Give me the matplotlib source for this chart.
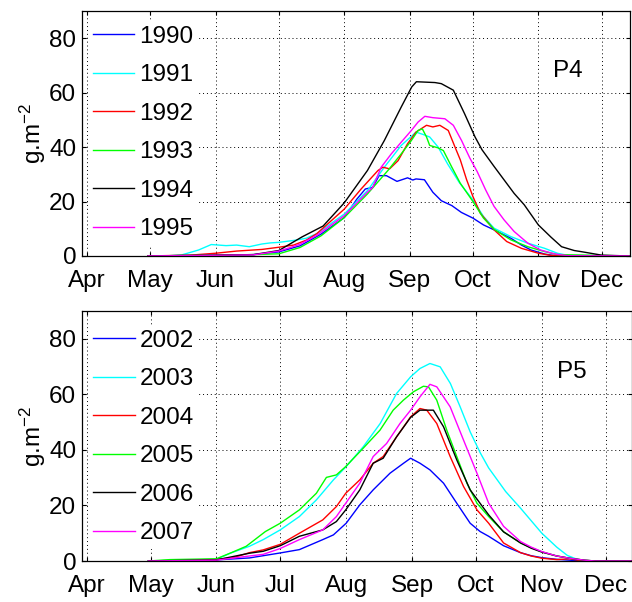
import numpy as np
import matplotlib
matplotlib.use('Agg')
import matplotlib.pyplot as plt

plt.rcParams['font.family'] = ['Liberation Sans', 'DejaVu Sans']
plt.rcParams['mathtext.fontset'] = 'custom'
plt.rcParams['mathtext.rm'] = 'Liberation Sans'
plt.rcParams['mathtext.it'] = 'Liberation Sans'

# x axis is day of year
month_doy = [91, 121, 152, 182, 213, 244, 274, 305, 335]
month_lbl = ['Apr', 'May', 'Jun', 'Jul', 'Aug', 'Sep', 'Oct', 'Nov', 'Dec']
yticks = [0, 20, 40, 60, 80]

# ---- P4 : 1990-1995
d1990 = [120, 152, 170, 182, 192, 202, 213, 219, 223, 226.5, 229.5, 233, 238, 243, 245.5, 247, 251, 255, 259, 264, 268.5, 274, 279, 284, 292, 297, 301.5, 308, 313, 348]
v1990 = [0, 0.2, 0.5, 1.5, 3.7, 8, 14.1, 20.9, 24.6, 25.2, 29.5, 29.5, 27.4, 28.7, 27.9, 28.3, 28, 23.4, 20.3, 18.5, 16, 13.9, 11.4, 9.6, 6.5, 4, 2.2, 0.7, 0.1, 0]

d1991 = [120, 130, 136, 144, 150, 157, 162, 168, 174, 178, 182, 190, 195, 200, 213, 224, 232, 240, 247, 250.5, 253.5, 257.5, 262, 267.5, 274, 279, 284, 292, 300, 308, 314, 319, 348]
v1991 = [0, 0.1, 0.4, 2.2, 4.2, 3.8, 4, 3.4, 4.4, 4.8, 5, 5.8, 6.5, 8.2, 15.4, 24, 32.6, 40.6, 45.5, 44.6, 43.7, 40, 33.8, 27, 20.6, 14.5, 10.2, 7.1, 4.7, 2.8, 1, 0.2, 0]

d1992 = [120, 140, 152, 162, 174, 182, 189, 195, 200, 213, 221, 229, 231.3, 234.5, 238.5, 243, 247, 252, 255, 258.3, 262.3, 265.5, 268, 271, 274, 277.5, 284, 290, 297, 305, 311, 348]
v1992 = [0, 0.3, 1, 1.8, 2.4, 3.2, 4, 5.8, 8.2, 17.2, 24.6, 31.4, 32.6, 32, 35, 41.2, 45.5, 48, 47.4, 48, 46.1, 40, 35.3, 28, 21.8, 15.7, 9.6, 5.3, 2.8, 1, 0.2, 0]

d1993 = [120, 170, 182, 192, 202, 213, 224, 233.7, 240, 244.8, 248, 250, 252, 253.5, 257.5, 260, 264, 268, 274, 279, 284, 292, 300, 308, 314, 348]
v1993 = [0, 0.5, 0.8, 3.1, 7.4, 14.1, 22.8, 31.4, 37.5, 42.4, 46.1, 46.7, 43.7, 40.6, 39.7, 38.7, 32.6, 26.7, 20, 13.9, 9.8, 5.9, 3.4, 1.6, 0.5, 0]

d1994 = [120, 170, 182, 193, 203, 213, 224, 232, 240, 245, 247.2, 256, 259, 264.7, 270, 275, 278.3, 284, 288.7, 293.5, 298.3, 305, 311, 316, 322, 326, 335, 348]
v1994 = [0, 0.5, 2, 7, 11, 19.5, 31.4, 42.4, 54.7, 62.1, 64, 63.7, 63.3, 60.9, 52.3, 43.7, 39, 32.9, 28, 23, 18.8, 11.4, 6.9, 3.4, 2, 1.5, 0.3, 0]

d1995 = [120, 170, 182, 187, 192, 200, 213, 224, 226.5, 230.5, 235.3, 240, 244.8, 248, 251.2, 255, 260.7, 264.7, 268.6, 272.5, 276, 280, 284, 288.7, 293.5, 300, 306, 313, 319, 348]
v1995 = [0, 0.4, 1.8, 3, 4.3, 7.6, 14.8, 23.4, 25.2, 32.6, 37.5, 41.8, 46.1, 49.2, 51.3, 50.8, 50.4, 48, 42.4, 36, 31, 24.3, 18.2, 13.3, 9, 4.7, 2.2, 0.7, 0.1, 0]

# ---- P5 : 2002-2007
d2002 = [120, 152, 167.5, 182, 191, 202, 207, 213, 219.4, 225.7, 233.6, 240, 243.3, 247.7, 252.4, 258.8, 265, 271.3, 276, 280, 287, 295, 300, 305, 312, 320, 325, 347]
v2002 = [0, 0.4, 1.1, 2.9, 4.1, 7.7, 9.4, 13.6, 20.2, 25.6, 31.6, 35.2, 37, 35.2, 32.8, 28, 20.8, 13.6, 10.6, 8.9, 5.5, 3, 1.9, 1.2, 0.6, 0.2, 0, 0]

d2003 = [120, 152, 158.5, 167.5, 174, 182, 191, 199, 207, 213, 221, 229, 236.7, 243.3, 247.7, 252.4, 257.2, 262, 266.6, 271.3, 276, 280, 288, 295, 300, 305, 312, 317, 322, 326, 347]
v2003 = [0, 0.6, 2.8, 5.3, 7.7, 11.2, 16, 22, 29.2, 34, 41.1, 49.5, 60.3, 66.3, 69.3, 71.1, 69.9, 63.9, 55.5, 46.5, 39, 33.5, 25, 19, 14.5, 10, 5, 2, 0.5, 0, 0]

d2004 = [120, 152, 160, 167.5, 174, 182, 191, 202, 208.4, 212.8, 219.4, 225.7, 230.4, 236.7, 243.3, 247.7, 250.9, 255.6, 261.9, 268.2, 274.5, 280, 287, 295, 300, 305, 312, 318, 322, 327, 347]
v2004 = [0, 0.6, 1.2, 3, 4, 6, 10, 14.8, 19.6, 24.4, 29.2, 35.2, 37.6, 44.7, 51.9, 54.9, 54.3, 49.5, 37.6, 26.8, 18.4, 13.6, 6.5, 3, 1.8, 1, 0.5, 0.8, 0.3, 0, 0]

d2005 = [120, 130, 152, 159, 166, 175, 182, 191, 199, 203.7, 208.4, 212.8, 221, 228.9, 235.1, 239.9, 244.6, 249.3, 251.7, 255.6, 260.3, 265, 269.8, 274.5, 280, 287, 295, 300, 305, 312, 318, 325, 330, 347]
v2005 = [0, 0.5, 0.8, 3, 5.3, 10.6, 13.6, 18.4, 24.4, 30.1, 31, 34, 40.6, 47.1, 54.3, 57.9, 60.9, 62.9, 62.7, 57.9, 47.1, 37.6, 28, 20.8, 16, 10.5, 6.5, 4.8, 3.3, 1.8, 1, 0.3, 0, 0]

d2006 = [120, 152, 167.5, 174, 182, 191, 202, 208.4, 212.8, 219.4, 225.7, 230.4, 236.7, 243.3, 247.7, 254, 258.8, 265, 271.3, 280, 287, 295, 300, 305, 312, 318, 325, 330, 347]
v2006 = [0, 0.4, 2.8, 3.5, 5.5, 8.9, 11.2, 14.2, 18.4, 25.6, 35.2, 37, 44.7, 51.7, 54.3, 54.3, 48.3, 36.4, 25.6, 16.6, 10.5, 6.5, 4.6, 3.2, 1.8, 1, 0.3, 0, 0]

d2007 = [120, 152, 167.5, 174, 182, 191, 202, 208.4, 212.8, 219.4, 225.7, 232, 238.3, 243.3, 247.7, 252.4, 255.6, 261.9, 268.2, 274.5, 280, 287, 295, 300, 305, 312, 318, 325, 330, 347]
v2007 = [0, 0.3, 1.8, 2.4, 4.5, 7.7, 11.2, 16, 20.8, 28, 37.6, 42.3, 49.5, 54.3, 59.1, 63.6, 62.7, 55.5, 43.5, 31.6, 20.8, 12.5, 7, 5, 3.4, 1.8, 1, 0.3, 0, 0]

colors = ['#0000ff', '#00ffff', '#ff0000', '#00ff00', '#000000', '#ff00ff']

top_series = [(d1990, v1990, '1990'), (d1991, v1991, '1991'), (d1992, v1992, '1992'),
              (d1993, v1993, '1993'), (d1994, v1994, '1994'), (d1995, v1995, '1995')]
bot_series = [(d2002, v2002, '2002'), (d2003, v2003, '2003'), (d2004, v2004, '2004'),
              (d2005, v2005, '2005'), (d2006, v2006, '2006'), (d2007, v2007, '2007')]

fig = plt.figure(figsize=(6.32, 6.02), dpi=100)
ax1 = fig.add_axes([0.1293, 0.5748, 0.8668, 0.407])
ax2 = fig.add_axes([0.1293, 0.0681, 0.8707, 0.4153])

fs = 17.5


def style(ax, series, xlim, tag, leg_y):
    for (d, v, lab), c in zip(series, colors):
        ax.plot(d, v, color=c, lw=1.0, label=lab)
    ax.set_xlim(xlim)
    ax.set_ylim(0, 90)
    ax.set_xticks(month_doy)
    ax.set_xticklabels(month_lbl)
    ax.set_yticks(yticks)
    ax.tick_params(direction='in', length=3, width=0.8, labelsize=fs,
                   top=True, right=True)
    ax.tick_params(axis='x', pad=10)
    ax.tick_params(axis='y', pad=4)
    ax.grid(True, color='black', linestyle=(0, (1, 3)), lw=0.7)
    for s in ax.spines.values():
        s.set_linewidth(0.9)
    ax.set_ylabel('g.m$^{-2}$', fontsize=fs, labelpad=1)
    ax.text(319, 68, tag, fontsize=fs, ha='center', va='center')
    leg = ax.legend(loc='upper left', bbox_to_anchor=(0.012, leg_y), fontsize=fs,
                    frameon=True, fancybox=False, edgecolor='none', facecolor='white',
                    framealpha=1, handlelength=1.7, handletextpad=0.2,
                    labelspacing=0.68, borderpad=0.2, borderaxespad=0)
    return leg


style(ax1, top_series, (88.6, 348.2), 'P4', 0.96)
style(ax2, bot_series, (88.65, 347.4), 'P5', 0.945)

fig.savefig('out.png', dpi=100)
